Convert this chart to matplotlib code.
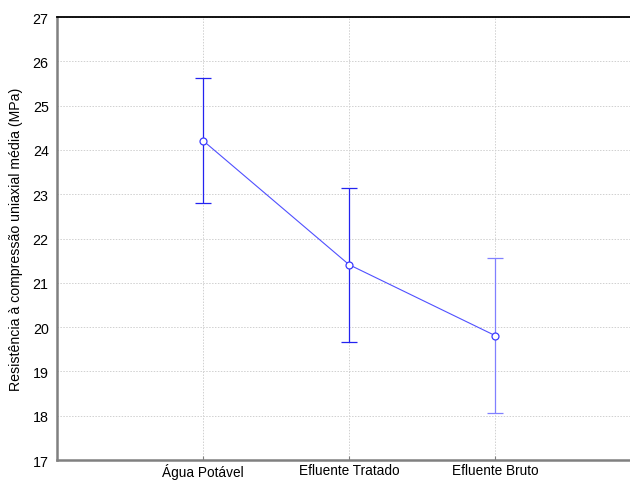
import matplotlib
matplotlib.use('Agg')
import matplotlib.pyplot as plt

plt.rcParams['font.family'] = ['Liberation Sans', 'DejaVu Sans']

# Resistência média por tipo de água de amassamento
categorias = ['Água Potável', 'Efluente Tratado', 'Efluente Bruto']
media = [24.21, 21.41, 19.81]
limite_sup = [25.62, 23.15, 21.55]
limite_inf = [22.80, 19.66, 18.06]
cores_barra = ['#2323f0', '#2323f0', '#8080ff']

fig = plt.figure(figsize=(6.30, 4.81), dpi=100)
ax = fig.add_axes([57 / 630, 20 / 481, 584 / 630, 443 / 481])

x = list(range(1, len(categorias) + 1))

# linha de médias
ax.plot(x, media, color='#5050ff', lw=0.8, zorder=3)

# barras de erro
for xi, m, sup, inf, cor in zip(x, media, limite_sup, limite_inf, cores_barra):
    ax.errorbar([xi], [m], yerr=[[m - inf], [sup - m]], fmt='none',
                ecolor=cor, elinewidth=0.9, capsize=5.8, capthick=0.9,
                zorder=2)

ax.plot(x, media, linestyle='none', marker='o', markersize=5,
        markerfacecolor='white', markeredgecolor='#3a3aff',
        markeredgewidth=0.9, zorder=4)

ax.set_xlim(0, 4)
ax.set_ylim(17, 27)
ax.set_yticks(range(17, 28))
ax.set_xticks(x)
ax.set_xticklabels(categorias, fontsize=9.8)
ax.tick_params(axis='y', length=0, labelsize=10.3, pad=6)
ax.tick_params(axis='x', direction='in', length=3, color='#808080', pad=2)

ax.grid(True, linestyle=(0, (1.5, 1.5)), color='#d0d0d0', lw=0.7)
ax.set_axisbelow(True)

ax.spines['right'].set_visible(False)
ax.spines['top'].set_color('black')
ax.spines['top'].set_linewidth(1.3)
for lado in ('left', 'bottom'):
    ax.spines[lado].set_color('#808080')
    ax.spines[lado].set_linewidth(1.8)

ax.set_ylabel('Resistência à compressão uniaxial média (MPa)', fontsize=10.2,
              labelpad=7)

fig.savefig('out.png', dpi=100)
